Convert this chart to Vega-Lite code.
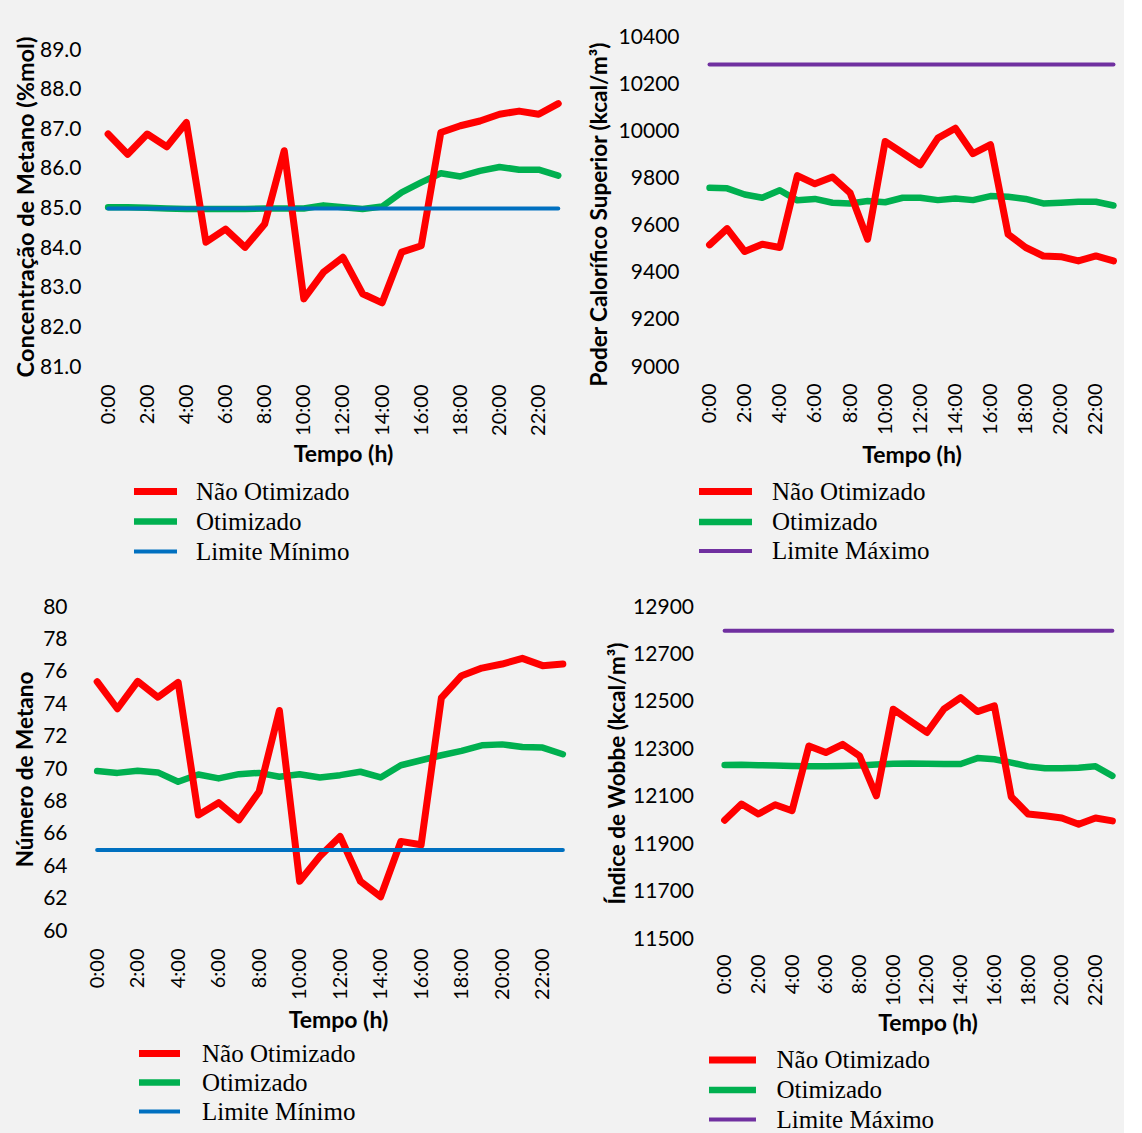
{
  "$schema": "https://vega.github.io/schema/vega-lite/v6.json",
  "background": "#f2f2f2",
  "padding": {"left": 14, "top": 26, "right": 0, "bottom": 0},
  "config": {
    "view": {"stroke": null},
    "axis": {"domain": false, "ticks": false, "tickSize": 0, "grid": false, "labelFont": "Lato", "titleFont": "Lato", "titleFontWeight": "bold", "labelColor": "#000", "titleColor": "#000", "labelFontSize": 21, "titleFontSize": 22.5},
    "axisX": {"labelFontSize": 20, "titleFontSize": 23},
    "legend": {"labelFont": "Liberation Serif", "labelFontSize": 25, "labelColor": "#000", "labelLimit": 400, "padding": 0, "rowPadding": 4, "symbolType": "M-2.5,0L2.5,0"},
    "line": {"strokeJoin": "round", "strokeCap": "round"}
  },
  "datasets": {
    "p1": [
      {"h": 0, "Não Otimizado": 86.88, "Otimizado": 85.03, "Limite Mínimo": 85},
      {"h": 1, "Não Otimizado": 86.37, "Otimizado": 85.03, "Limite Mínimo": 85},
      {"h": 2, "Não Otimizado": 86.88, "Otimizado": 85.02, "Limite Mínimo": 85},
      {"h": 3, "Não Otimizado": 86.56, "Otimizado": 85.0, "Limite Mínimo": 85},
      {"h": 4, "Não Otimizado": 87.17, "Otimizado": 84.99, "Limite Mínimo": 85},
      {"h": 5, "Não Otimizado": 84.15, "Otimizado": 84.99, "Limite Mínimo": 85},
      {"h": 6, "Não Otimizado": 84.48, "Otimizado": 84.99, "Limite Mínimo": 85},
      {"h": 7, "Não Otimizado": 84.02, "Otimizado": 84.99, "Limite Mínimo": 85},
      {"h": 8, "Não Otimizado": 84.61, "Otimizado": 85.0, "Limite Mínimo": 85},
      {"h": 9, "Não Otimizado": 86.46, "Otimizado": 85.0, "Limite Mínimo": 85},
      {"h": 10, "Não Otimizado": 82.72, "Otimizado": 85.0, "Limite Mínimo": 85},
      {"h": 11, "Não Otimizado": 83.39, "Otimizado": 85.08, "Limite Mínimo": 85},
      {"h": 12, "Não Otimizado": 83.77, "Otimizado": 85.03, "Limite Mínimo": 85},
      {"h": 13, "Não Otimizado": 82.85, "Otimizado": 84.99, "Limite Mínimo": 85},
      {"h": 14, "Não Otimizado": 82.62, "Otimizado": 85.05, "Limite Mínimo": 85},
      {"h": 15, "Não Otimizado": 83.9, "Otimizado": 85.41, "Limite Mínimo": 85},
      {"h": 16, "Não Otimizado": 84.06, "Otimizado": 85.66, "Limite Mínimo": 85},
      {"h": 17, "Não Otimizado": 86.92, "Otimizado": 85.89, "Limite Mínimo": 85},
      {"h": 18, "Não Otimizado": 87.09, "Otimizado": 85.81, "Limite Mínimo": 85},
      {"h": 19, "Não Otimizado": 87.21, "Otimizado": 85.95, "Limite Mínimo": 85},
      {"h": 20, "Não Otimizado": 87.38, "Otimizado": 86.05, "Limite Mínimo": 85},
      {"h": 21, "Não Otimizado": 87.46, "Otimizado": 85.98, "Limite Mínimo": 85},
      {"h": 22, "Não Otimizado": 87.38, "Otimizado": 85.98, "Limite Mínimo": 85},
      {"h": 23, "Não Otimizado": 87.65, "Otimizado": 85.83, "Limite Mínimo": 85}
    ],
    "p2": [
      {"h": 0, "Não Otimizado": 9518, "Otimizado": 9760, "Limite Máximo": 10283},
      {"h": 1, "Não Otimizado": 9587, "Otimizado": 9758, "Limite Máximo": 10283},
      {"h": 2, "Não Otimizado": 9490, "Otimizado": 9732, "Limite Máximo": 10283},
      {"h": 3, "Não Otimizado": 9521, "Otimizado": 9718, "Limite Máximo": 10283},
      {"h": 4, "Não Otimizado": 9507, "Otimizado": 9750, "Limite Máximo": 10283},
      {"h": 5, "Não Otimizado": 9812, "Otimizado": 9707, "Limite Máximo": 10283},
      {"h": 6, "Não Otimizado": 9777, "Otimizado": 9713, "Limite Máximo": 10283},
      {"h": 7, "Não Otimizado": 9806, "Otimizado": 9697, "Limite Máximo": 10283},
      {"h": 8, "Não Otimizado": 9739, "Otimizado": 9694, "Limite Máximo": 10283},
      {"h": 9, "Não Otimizado": 9542, "Otimizado": 9704, "Limite Máximo": 10283},
      {"h": 10, "Não Otimizado": 9957, "Otimizado": 9699, "Limite Máximo": 10283},
      {"h": 11, "Não Otimizado": 9908, "Otimizado": 9718, "Limite Máximo": 10283},
      {"h": 12, "Não Otimizado": 9858, "Otimizado": 9718, "Limite Máximo": 10283},
      {"h": 13, "Não Otimizado": 9971, "Otimizado": 9708, "Limite Máximo": 10283},
      {"h": 14, "Não Otimizado": 10013, "Otimizado": 9715, "Limite Máximo": 10283},
      {"h": 15, "Não Otimizado": 9905, "Otimizado": 9708, "Limite Máximo": 10283},
      {"h": 16, "Não Otimizado": 9943, "Otimizado": 9725, "Limite Máximo": 10283},
      {"h": 17, "Não Otimizado": 9563, "Otimizado": 9722, "Limite Máximo": 10283},
      {"h": 18, "Não Otimizado": 9507, "Otimizado": 9713, "Limite Máximo": 10283},
      {"h": 19, "Não Otimizado": 9471, "Otimizado": 9694, "Limite Máximo": 10283},
      {"h": 20, "Não Otimizado": 9468, "Otimizado": 9697, "Limite Máximo": 10283},
      {"h": 21, "Não Otimizado": 9450, "Otimizado": 9701, "Limite Máximo": 10283},
      {"h": 22, "Não Otimizado": 9471, "Otimizado": 9701, "Limite Máximo": 10283},
      {"h": 23, "Não Otimizado": 9450, "Otimizado": 9685, "Limite Máximo": 10283}
    ],
    "p3": [
      {"h": 0, "Não Otimizado": 75.39, "Otimizado": 69.87, "Limite Mínimo": 65},
      {"h": 1, "Não Otimizado": 73.72, "Otimizado": 69.76, "Limite Mínimo": 65},
      {"h": 2, "Não Otimizado": 75.41, "Otimizado": 69.89, "Limite Mínimo": 65},
      {"h": 3, "Não Otimizado": 74.43, "Otimizado": 69.79, "Limite Mínimo": 65},
      {"h": 4, "Não Otimizado": 75.35, "Otimizado": 69.21, "Limite Mínimo": 65},
      {"h": 5, "Não Otimizado": 67.16, "Otimizado": 69.66, "Limite Mínimo": 65},
      {"h": 6, "Não Otimizado": 67.92, "Otimizado": 69.42, "Limite Mínimo": 65},
      {"h": 7, "Não Otimizado": 66.86, "Otimizado": 69.68, "Limite Mínimo": 65},
      {"h": 8, "Não Otimizado": 68.6, "Otimizado": 69.76, "Limite Mínimo": 65},
      {"h": 9, "Não Otimizado": 73.61, "Otimizado": 69.52, "Limite Mínimo": 65},
      {"h": 10, "Não Otimizado": 63.07, "Otimizado": 69.68, "Limite Mínimo": 65},
      {"h": 11, "Não Otimizado": 64.61, "Otimizado": 69.48, "Limite Mínimo": 65},
      {"h": 12, "Não Otimizado": 65.83, "Otimizado": 69.62, "Limite Mínimo": 65},
      {"h": 13, "Não Otimizado": 63.07, "Otimizado": 69.83, "Limite Mínimo": 65},
      {"h": 14, "Não Otimizado": 62.11, "Otimizado": 69.48, "Limite Mínimo": 65},
      {"h": 15, "Não Otimizado": 65.53, "Otimizado": 70.23, "Limite Mínimo": 65},
      {"h": 16, "Não Otimizado": 65.32, "Otimizado": 70.54, "Limite Mínimo": 65},
      {"h": 17, "Não Otimizado": 74.39, "Otimizado": 70.85, "Limite Mínimo": 65},
      {"h": 18, "Não Otimizado": 75.76, "Otimizado": 71.12, "Limite Mínimo": 65},
      {"h": 19, "Não Otimizado": 76.23, "Otimizado": 71.46, "Limite Mínimo": 65},
      {"h": 20, "Não Otimizado": 76.48, "Otimizado": 71.52, "Limite Mínimo": 65},
      {"h": 21, "Não Otimizado": 76.83, "Otimizado": 71.36, "Limite Mínimo": 65},
      {"h": 22, "Não Otimizado": 76.38, "Otimizado": 71.32, "Limite Mínimo": 65},
      {"h": 23, "Não Otimizado": 76.48, "Otimizado": 70.91, "Limite Mínimo": 65}
    ],
    "p4": [
      {"h": 0, "Não Otimizado": 12001, "Otimizado": 12234, "Limite Máximo": 12800},
      {"h": 1, "Não Otimizado": 12069, "Otimizado": 12235, "Limite Máximo": 12800},
      {"h": 2, "Não Otimizado": 12027, "Otimizado": 12233, "Limite Máximo": 12800},
      {"h": 3, "Não Otimizado": 12066, "Otimizado": 12232, "Limite Máximo": 12800},
      {"h": 4, "Não Otimizado": 12041, "Otimizado": 12230, "Limite Máximo": 12800},
      {"h": 5, "Não Otimizado": 12314, "Otimizado": 12228, "Limite Máximo": 12800},
      {"h": 6, "Não Otimizado": 12286, "Otimizado": 12228, "Limite Máximo": 12800},
      {"h": 7, "Não Otimizado": 12321, "Otimizado": 12230, "Limite Máximo": 12800},
      {"h": 8, "Não Otimizado": 12272, "Otimizado": 12232, "Limite Máximo": 12800},
      {"h": 9, "Não Otimizado": 12104, "Otimizado": 12236, "Limite Máximo": 12800},
      {"h": 10, "Não Otimizado": 12469, "Otimizado": 12239, "Limite Máximo": 12800},
      {"h": 11, "Não Otimizado": 12420, "Otimizado": 12240, "Limite Máximo": 12800},
      {"h": 12, "Não Otimizado": 12371, "Otimizado": 12239, "Limite Máximo": 12800},
      {"h": 13, "Não Otimizado": 12469, "Otimizado": 12238, "Limite Máximo": 12800},
      {"h": 14, "Não Otimizado": 12518, "Otimizado": 12238, "Limite Máximo": 12800},
      {"h": 15, "Não Otimizado": 12459, "Otimizado": 12263, "Limite Máximo": 12800},
      {"h": 16, "Não Otimizado": 12483, "Otimizado": 12258, "Limite Máximo": 12800},
      {"h": 17, "Não Otimizado": 12100, "Otimizado": 12244, "Limite Máximo": 12800},
      {"h": 18, "Não Otimizado": 12027, "Otimizado": 12228, "Limite Máximo": 12800},
      {"h": 19, "Não Otimizado": 12020, "Otimizado": 12220, "Limite Máximo": 12800},
      {"h": 20, "Não Otimizado": 12010, "Otimizado": 12220, "Limite Máximo": 12800},
      {"h": 21, "Não Otimizado": 11984, "Otimizado": 12222, "Limite Máximo": 12800},
      {"h": 22, "Não Otimizado": 12010, "Otimizado": 12228, "Limite Máximo": 12800},
      {"h": 23, "Não Otimizado": 11998, "Otimizado": 12188, "Limite Máximo": 12800}
    ]
  },
  "resolve": {"scale": {"color": "independent", "strokeWidth": "independent"}},
  "spacing": 31,
  "vconcat": [
    {
      "spacing": 18,
      "resolve": {"scale": {"color": "independent", "strokeWidth": "independent"}},
      "hconcat": [
        {
          "width": 485, "height": 330,
          "data": {"name": "p1"},
          "transform": [{"fold": ["Otimizado", "Não Otimizado", "Limite Mínimo"], "as": ["s", "v"]}],
          "mark": {"type": "line"},
          "encoding": {
            "x": {"field": "h", "type": "quantitative", "scale": {"domain": [-1.18, 23.6], "nice": false, "zero": false},
              "axis": {"values": [0, 2, 4, 6, 8, 10, 12, 14, 16, 18, 20, 22], "labelExpr": "datum.value + ':00'", "labelAngle": -90, "labelPadding": 17, "title": "Tempo (h)", "titlePadding": 8, "titleX": 258}},
            "y": {"field": "v", "type": "quantitative", "scale": {"domain": [81, 89.33], "nice": false, "zero": false},
              "axis": {"values": [81, 82, 83, 84, 85, 86, 87, 88, 89], "format": ".1f", "title": "Concentração de Metano (%mol)", "titleFontSize": 23.5, "labelPadding": 4, "titlePadding": 1.5, "titleY": 169.5}},
            "color": {"field": "s", "type": "nominal", "scale": {"domain": ["Não Otimizado", "Otimizado", "Limite Mínimo"], "range": ["#ff0000", "#00b050", "#0070c0"]},
              "legend": {"title": null, "orient": "none", "legendX": 58, "legendY": 442, "symbolSize": 296, "labelOffset": 28}},
            "strokeWidth": {"field": "s", "type": "nominal", "scale": {"type": "ordinal", "domain": ["Não Otimizado", "Otimizado", "Limite Mínimo"], "range": [7, 6.5, 4]},
              "legend": {"title": null, "orient": "none", "legendX": 58, "legendY": 442, "symbolSize": 296, "labelOffset": 28}}
          }
        },
        {
          "width": 425, "height": 330,
          "data": {"name": "p2"},
          "transform": [{"fold": ["Otimizado", "Não Otimizado", "Limite Máximo"], "as": ["s", "v"]}],
          "mark": {"type": "line"},
          "encoding": {
            "x": {"field": "h", "type": "quantitative", "scale": {"domain": [-0.6, 23.6], "nice": false, "zero": false},
              "axis": {"values": [0, 2, 4, 6, 8, 10, 12, 14, 16, 18, 20, 22], "labelExpr": "datum.value + ':00'", "labelAngle": -90, "labelPadding": 16, "title": "Tempo (h)", "titlePadding": 10}},
            "y": {"field": "v", "type": "quantitative", "scale": {"domain": [9000, 10400], "nice": false, "zero": false},
              "axis": {"values": [9000, 9200, 9400, 9600, 9800, 10000, 10200, 10400], "format": "d", "title": "Poder Calorífico Superior (kcal/m³)", "labelPadding": 20, "titlePadding": 7, "titleY": 177}},
            "color": {"field": "s", "type": "nominal", "scale": {"domain": ["Não Otimizado", "Otimizado", "Limite Máximo"], "range": ["#ff0000", "#00b050", "#7030a0"]},
              "legend": {"title": null, "orient": "none", "legendX": 12, "legendY": 440, "symbolSize": 449, "labelOffset": 32, "rowPadding": 3}},
            "strokeWidth": {"field": "s", "type": "nominal", "scale": {"type": "ordinal", "domain": ["Não Otimizado", "Otimizado", "Limite Máximo"], "range": [7, 6.5, 4]},
              "legend": {"title": null, "orient": "none", "legendX": 12, "legendY": 440, "symbolSize": 449, "labelOffset": 32, "rowPadding": 3}}
          }
        }
      ]
    },
    {
      "spacing": 31.5,
      "resolve": {"scale": {"color": "independent", "strokeWidth": "independent"}},
      "hconcat": [
        {
          "width": 490, "height": 324,
          "data": {"name": "p3"},
          "transform": [{"fold": ["Otimizado", "Não Otimizado", "Limite Mínimo"], "as": ["s", "v"]}],
          "mark": {"type": "line"},
          "encoding": {
            "x": {"field": "h", "type": "quantitative", "scale": {"domain": [-0.6, 23.6], "nice": false, "zero": false},
              "axis": {"values": [0, 2, 4, 6, 8, 10, 12, 14, 16, 18, 20, 22], "labelExpr": "datum.value + ':00'", "labelAngle": -90, "labelPadding": 17, "title": "Tempo (h)", "titlePadding": 10, "titleX": 253}},
            "y": {"field": "v", "type": "quantitative", "scale": {"domain": [60, 80], "nice": false, "zero": false},
              "axis": {"values": [60, 62, 64, 66, 68, 70, 72, 74, 76, 78, 80], "title": "Número de Metano", "labelPadding": 18, "titlePadding": 5}},
            "color": {"field": "s", "type": "nominal", "scale": {"domain": ["Não Otimizado", "Otimizado", "Limite Mínimo"], "range": ["#ff0000", "#00b050", "#0070c0"]},
              "legend": {"title": null, "orient": "none", "legendX": 62, "legendY": 434, "symbolSize": 269, "labelOffset": 30, "rowPadding": 3}},
            "strokeWidth": {"field": "s", "type": "nominal", "scale": {"type": "ordinal", "domain": ["Não Otimizado", "Otimizado", "Limite Mínimo"], "range": [7, 6.5, 4]},
              "legend": {"title": null, "orient": "none", "legendX": 62, "legendY": 434, "symbolSize": 269, "labelOffset": 30, "rowPadding": 3}}
          }
        },
        {
          "width": 408, "height": 332,
          "data": {"name": "p4"},
          "transform": [{"fold": ["Otimizado", "Não Otimizado", "Limite Máximo"], "as": ["s", "v"]}],
          "mark": {"type": "line"},
          "encoding": {
            "x": {"field": "h", "type": "quantitative", "scale": {"domain": [-0.6, 23.6], "nice": false, "zero": false},
              "axis": {"values": [0, 2, 4, 6, 8, 10, 12, 14, 16, 18, 20, 22], "labelExpr": "datum.value + ':00'", "labelAngle": -90, "labelPadding": 15, "title": "Tempo (h)", "titlePadding": 7, "titleX": 213}},
            "y": {"field": "v", "type": "quantitative", "scale": {"domain": [11500, 12900], "nice": false, "zero": false},
              "axis": {"values": [11500, 11700, 11900, 12100, 12300, 12500, 12700, 12900], "format": "d", "title": "Índice de Wobbe  (kcal/m³)", "labelPadding": 21, "titlePadding": 3}},
            "color": {"field": "s", "type": "nominal", "scale": {"domain": ["Não Otimizado", "Otimizado", "Limite Máximo"], "range": ["#ff0000", "#00b050", "#7030a0"]},
              "legend": {"title": null, "orient": "none", "legendX": 5, "legendY": 440, "symbolSize": 353, "labelOffset": 31, "rowPadding": 4}},
            "strokeWidth": {"field": "s", "type": "nominal", "scale": {"type": "ordinal", "domain": ["Não Otimizado", "Otimizado", "Limite Máximo"], "range": [7, 6.5, 4]},
              "legend": {"title": null, "orient": "none", "legendX": 5, "legendY": 440, "symbolSize": 353, "labelOffset": 31, "rowPadding": 4}}
          }
        }
      ]
    }
  ]
}
